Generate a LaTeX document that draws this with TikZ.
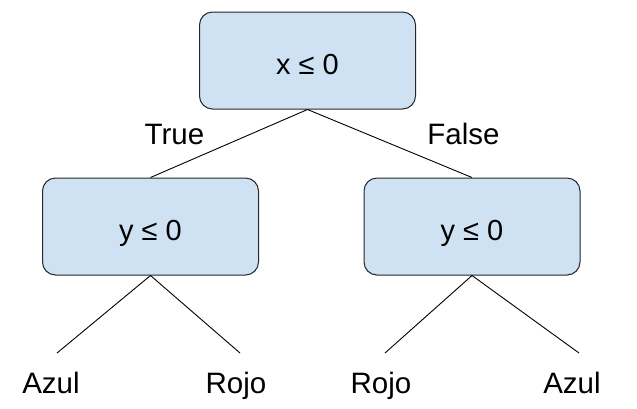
\documentclass[tikz,border=0pt]{standalone}
\usepackage{fontspec}
\setmainfont{Liberation Sans}
\definecolor{boxblue}{HTML}{CFE2F3}
\begin{document}
\begin{tikzpicture}[x=1pt,y=-1pt,
  decision/.style={draw=black!85, fill=boxblue, rounded corners=13pt, line width=1pt,
    minimum width=216pt, minimum height=97pt, inner sep=0pt,
    font=\fontsize{29}{33}\selectfont, text height=27pt, text depth=0pt},
  lbl/.style={font=\fontsize{29.5}{34}\selectfont, anchor=base, inner sep=0pt},
  edge/.style={draw=black, line width=0.9pt}]
\useasboundingbox (0,0) rectangle (637,408);

\node[decision] (root)  at (307.5,60.5) {x ≤ 0};
\node[decision] (left)  at (150.5,226.5) {y ≤ 0};
\node[decision] (right) at (472,226.5) {y ≤ 0};

\draw[edge] (root.south) -- (left.north);
\draw[edge] (root.south) -- (right.north);

\node[lbl] (ltrue)  at (174.5,144) {True};
\node[lbl] (lfalse) at (463.5,144) {False};

\coordinate (e1) at (57,353);
\coordinate (e2) at (240,353);
\coordinate (e3) at (385,353);
\coordinate (e4) at (579,353);

\draw[edge] (left.south) -- (e1);
\draw[edge] (left.south) -- (e2);
\draw[edge] (right.south) -- (e3);
\draw[edge] (right.south) -- (e4);

\node[lbl] (leaf1) at (51,393) {Azul};
\node[lbl] (leaf2) at (236,393) {Rojo};
\node[lbl] (leaf3) at (381,393) {Rojo};
\node[lbl] (leaf4) at (572,393) {Azul};
\end{tikzpicture}
\end{document}
